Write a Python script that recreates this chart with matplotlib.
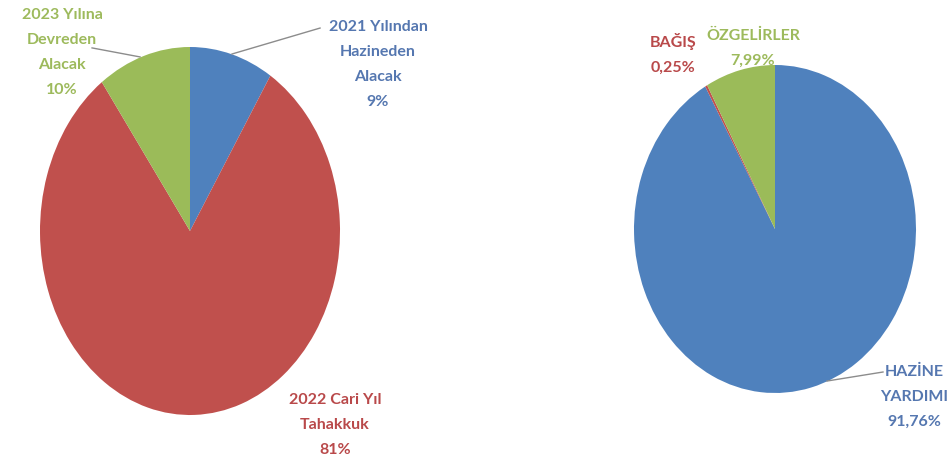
import matplotlib.pyplot as plt

# left pie: receivables
left_labels = ["2021 Yılından\nHazineden\nAlacak", "2022 Cari Yıl\nTahakkuk", "2023 Yılına\nDevreden\nAlacak"]
left_values = [9, 81, 10]
left_pct = ["9%", "81%", "10%"]

# right pie: income sources
right_labels = ["HAZİNE\nYARDIMI", "BAĞIŞ", "ÖZGELİRLER"]
right_values = [91.76, 0.25, 7.99]
right_pct = ["91,76%", "0,25%", "7,99%"]

colors = ["#4F81BD", "#C0504D", "#9BBB59"]
text_colors = ["#5577B0", "#B9494A", "#9DBA5C"]

plt.rcParams["font.family"] = ["Lato", "DejaVu Sans"]

fig = plt.figure(figsize=(9.48, 4.70), dpi=100)

def pie_axes(rect, values):
    ax = fig.add_axes(rect)
    ax.pie(values, colors=colors, startangle=90, counterclock=False,
           wedgeprops=dict(linewidth=0))
    ax.set_aspect("auto")
    ax.set_xlim(-1, 1)
    ax.set_ylim(-1, 1)
    ax.axis("off")
    return ax

ax1 = pie_axes([40 / 948, 55 / 470, 300 / 948, 368 / 470], left_values)
ax2 = pie_axes([634 / 948, 77 / 470, 282 / 948, 328 / 470], right_values)

txt = dict(ha="center", va="center", fontsize=11.5, fontweight="bold", linespacing=2.0)

# left labels (order: blue, red, green)
left_pos = [(1.253, 0.905), (0.967, -1.054), (-0.853, 0.968)]
for lab, pct, pos, c in zip(left_labels, left_pct, left_pos, text_colors):
    ax1.text(pos[0], pos[1], lab + "\n" + pct, color=c, clip_on=False, **txt)
ax1.plot([0.28, 0.867], [0.962, 1.103], color="#8C8C8C", lw=1, clip_on=False)
ax1.plot([-0.333, -0.653], [0.946, 0.995], color="#8C8C8C", lw=1, clip_on=False)

# right labels
right_pos = [(0.99, -1.024), (-0.723, 1.067), (-0.156, 1.104)]
for lab, pct, pos, c in zip(right_labels, right_pct, right_pos, text_colors):
    ax2.text(pos[0], pos[1], lab + "\n" + pct, color=c, clip_on=False, **txt)
ax2.plot([0.369, 0.766], [-0.927, -0.872], color="#8C8C8C", lw=1, clip_on=False)

fig.savefig("out.png", dpi=100, facecolor="white")
